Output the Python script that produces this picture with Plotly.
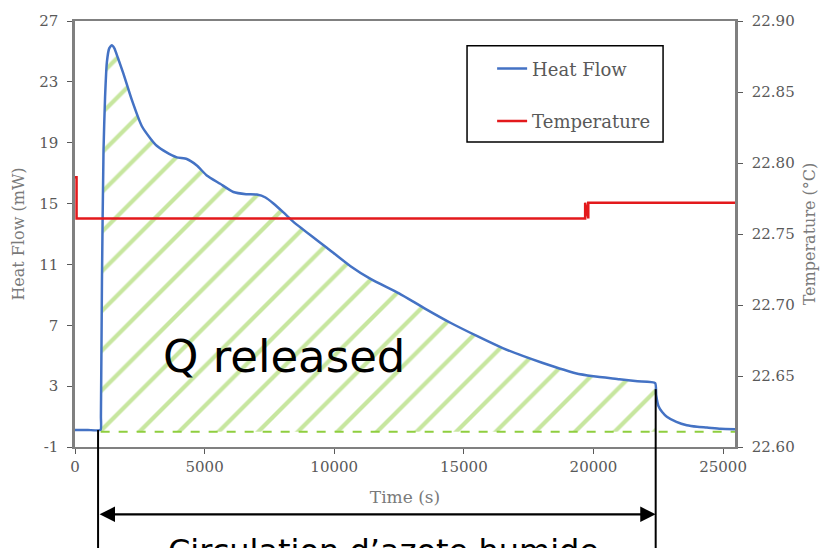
import plotly.graph_objects as go

# ---------------- data ----------------
time_s = [0, 500, 985, 1000, 1040, 1100, 1160, 1230, 1320, 1417, 1520, 1650, 1864, 2189,
          2575, 2900, 3154, 3500, 3926, 4312, 4700, 5084, 5600, 6110, 6600, 7014, 7350,
          7655, 8050, 8427, 9100, 9716, 10615, 11400, 12500, 13500, 14500, 15500, 16500,
          17300, 18020, 19310, 20000, 21000, 21700, 22380, 22420, 22510, 22650, 22830,
          23200, 23600, 24000, 24380, 24900, 25460]
heat_flow = [0.12, 0.12, 0.12, 1.0, 10.0, 18.5, 22.0, 24.3, 25.2, 25.4, 25.2, 24.6, 23.56, 21.83,
             20.1, 19.3, 18.8, 18.4, 18.04, 17.93, 17.5, 16.85, 16.3, 15.76, 15.62, 15.59, 15.4,
             15.0, 14.4, 13.8, 12.9, 12.1, 10.9, 10.05, 9.1, 8.1, 7.15, 6.3, 5.5,
             4.97, 4.54, 3.85, 3.65, 3.46, 3.32, 3.2, 2.4, 1.68, 1.3, 0.99,
             0.65, 0.43, 0.33, 0.28, 0.2, 0.17]

temp_time = [0, 60, 60, 19680, 19680, 19800, 19800, 25460]
temperature = [22.79, 22.79, 22.761, 22.761, 22.772, 22.761, 22.772, 22.772]

release_start = 990
release_end = 22400

x_ticks = [0, 5000, 10000, 15000, 20000, 25000]
y_ticks = [-1, 3, 7, 11, 15, 19, 23, 27]
y2_ticks = [22.60, 22.65, 22.70, 22.75, 22.80, 22.85, 22.90]

# --------------- derived ---------------
fill_t = [t for t in time_s if release_start <= t <= release_end]
fill_v = [v for t, v in zip(time_s, heat_flow) if release_start <= t <= release_end]

Y_MIN, Y_MAX = -1, 27
def paper_y(v):
    return (v - Y_MIN) / (Y_MAX - Y_MIN)

def value_at(t):
    for i in range(len(time_s) - 1):
        if time_s[i] <= t <= time_s[i + 1]:
            f = (t - time_s[i]) / (time_s[i + 1] - time_s[i])
            return heat_flow[i] + f * (heat_flow[i + 1] - heat_flow[i])
    return heat_flow[-1]

GRAY = "#595959"
LGRAY = "#7a7a7a"
SERIF = "DejaVu Serif, serif"
SANS = "DejaVu Sans, sans-serif"
BLUE = "#4472c4"
RED = "#e3191c"
GREEN = "#8fce3f"

fig = go.Figure()

fig.add_trace(go.Scatter(
    x=fill_t, y=fill_v, mode="lines", line=dict(width=0, color=GREEN),
    fill="tozeroy", fillcolor="rgba(0,0,0,0)",
    fillpattern=dict(shape="/", fgcolor=GREEN, bgcolor="rgba(0,0,0,0)", size=28, solidity=0.15),
    showlegend=False, hoverinfo="skip"))

fig.add_trace(go.Scatter(
    x=[release_start, time_s[-1]], y=[0, 0], mode="lines",
    line=dict(color=GREEN, width=2, dash="dash"), showlegend=False, hoverinfo="skip"))

fig.add_trace(go.Scatter(
    x=time_s, y=heat_flow, mode="lines", name="Heat Flow",
    line=dict(color=BLUE, width=2.5, shape="spline", smoothing=0.5),
    legendgroup="a"))

fig.add_trace(go.Scatter(
    x=temp_time, y=temperature, mode="lines", name="Temperature",
    line=dict(color=RED, width=2.5), yaxis="y2", legendgroup="b"))

# black vertical markers and arrow
marker_left = release_start - 100
fig.add_shape(type="line", xref="x", yref="paper", x0=marker_left, x1=marker_left,
              y0=-0.26, y1=paper_y(heat_flow[0]), line=dict(color="black", width=2))
fig.add_shape(type="line", xref="x", yref="paper", x0=release_end, x1=release_end,
              y0=-0.26, y1=paper_y(value_at(release_end)), line=dict(color="black", width=2))

fig.add_annotation(x=release_end, y=-0.158, xref="x", yref="paper",
                   ax=marker_left, ay=0, axref="x", ayref="pixel",
                   showarrow=True, arrowside="end+start", arrowhead=2,
                   arrowsize=1.4, arrowwidth=2.2, arrowcolor="black", text="")

fig.add_annotation(x=11890, y=-0.196, xref="x", yref="paper",
                   yanchor="top", showarrow=False, text="Circulation d’azote humide",
                   font=dict(family=SANS, size=32, color="black"))

fig.add_annotation(x=8070, y=4.95, xref="x", yref="y", showarrow=False,
                   text="Q released",
                   font=dict(family=SANS, size=45, color="black"))

# legend box
fig.add_shape(type="rect", xref="paper", yref="paper", x0=0.594, x1=0.891, y0=0.716, y1=0.942,
              line=dict(color="black", width=1.5), fillcolor="white", layer="below")

fig.update_layout(
    width=830, height=548,
    margin=dict(l=75, r=95, t=17, b=101),
    plot_bgcolor="white", paper_bgcolor="white",
    showlegend=True,
    legend=dict(x=0.632, y=0.931, xanchor="left", yanchor="top", bgcolor="rgba(0,0,0,0)",
                font=dict(family=SERIF, size=18, color=GRAY), tracegroupgap=26,
                itemwidth=30),
    xaxis=dict(range=[0, 25460], tickvals=x_ticks, ticktext=[str(v) for v in x_ticks],
               ticks="outside", ticklen=5,
               tickcolor=GRAY, showline=True, linecolor="#808080", linewidth=2, mirror=True,
               showgrid=False, zeroline=False,
               tickfont=dict(family=SERIF, size=15, color=GRAY),
               title=dict(text="Time (s)", font=dict(family=SERIF, size=17, color=LGRAY), standoff=16)),
    yaxis=dict(range=[Y_MIN, Y_MAX], tickvals=y_ticks, ticktext=[str(v) for v in y_ticks],
               ticks="outside", ticklen=5, ticklabelstandoff=6,
               tickcolor=GRAY, showline=True, linecolor="#808080", linewidth=2.5,
               showgrid=False, zeroline=False,
               tickfont=dict(family=SERIF, size=15, color=GRAY),
               title=dict(text="Heat Flow (mW)", font=dict(family=SERIF, size=16, color=LGRAY), standoff=11)),
    yaxis2=dict(range=[22.60, 22.90], tickvals=y2_ticks, ticktext=[f"{v:.2f}" for v in y2_ticks],
                overlaying="y", ticklabelstandoff=6,
                side="right", ticks="outside", ticklen=5, tickcolor=GRAY, showline=True,
                linecolor="#808080", linewidth=2.5, showgrid=False, zeroline=False,
                tickfont=dict(family=SERIF, size=15, color=GRAY),
                title=dict(text="Temperature (°C)", font=dict(family=SERIF, size=16, color=LGRAY), standoff=11)),
)

fig.write_html("out.html")
